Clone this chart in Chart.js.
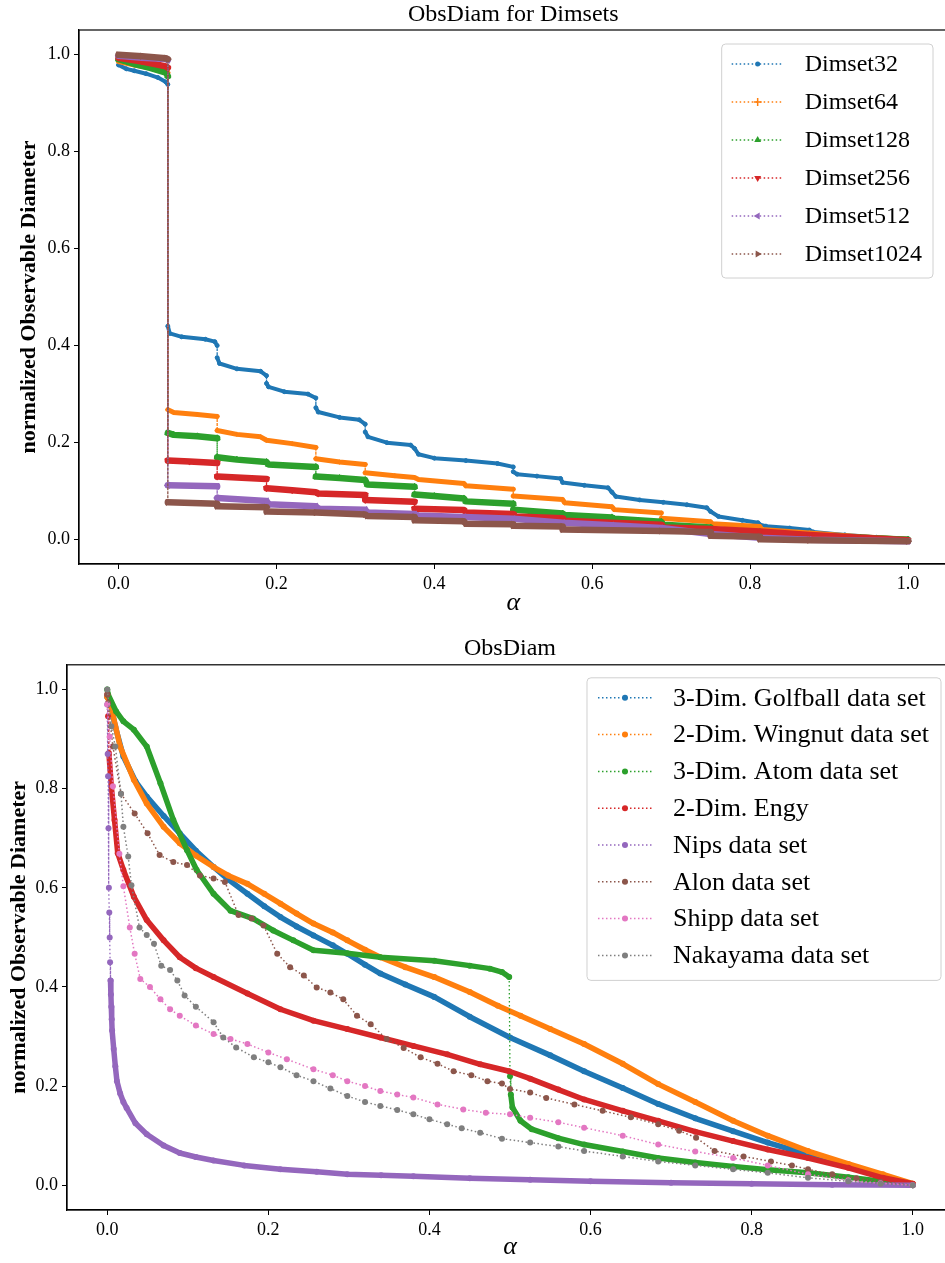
<!DOCTYPE html>
<html lang="en">
<head>
<meta charset="UTF-8">
<title>ObsDiam</title>
<script src="https://cdn.jsdelivr.net/npm/chart.js"></script>
<style>
  html, body { margin: 0; padding: 0; background: #fff; overflow: hidden; }
  .box { position: relative; width: 960px; }
  #top { height: 620px; }
  #bottom { height: 643px; }
</style>
</head>
<body>
<div class="box" id="top"><canvas id="dimsetChart"></canvas></div>
<div class="box" id="bottom"><canvas id="obsChart"></canvas></div>
<script>
// ---- tick labels ----
const xTicks = [0, 0.2, 0.4, 0.6, 0.8, 1.0];
const yTicks = [0, 0.2, 0.4, 0.6, 0.8, 1.0];

// ---- top chart: ObsDiam for Dimsets ([alpha, value]) ----
const dimsetLabels = ['Dimset32', 'Dimset64', 'Dimset128', 'Dimset256', 'Dimset512', 'Dimset1024'];

const dimset32 = [[0,0.978],[0.01,0.970],[0.02,0.966],[0.035,0.960],[0.05,0.952],[0.06,0.943],[0.0625,0.938],
  [0.0625,0.44],[0.065,0.425],[0.08,0.418],[0.11,0.413],[0.122,0.408],[0.125,0.40],
  [0.125,0.375],[0.128,0.363],[0.15,0.352],[0.18,0.347],[0.1875,0.338],
  [0.1875,0.322],[0.19,0.315],[0.21,0.305],[0.24,0.30],[0.25,0.292],
  [0.25,0.272],[0.253,0.263],[0.28,0.252],[0.305,0.247],[0.3125,0.238],
  [0.3125,0.222],[0.316,0.212],[0.34,0.200],[0.37,0.195],[0.375,0.188],
  [0.38,0.176],[0.40,0.168],[0.44,0.163],[0.48,0.157],[0.5,0.150],
  [0.5,0.14],[0.505,0.135],[0.53,0.131],[0.56,0.126],[0.5625,0.118],[0.59,0.112],[0.62,0.107],
  [0.625,0.098],[0.63,0.089],[0.66,0.082],[0.69,0.077],[0.72,0.072],[0.745,0.066],
  [0.75,0.058],[0.76,0.048],[0.79,0.040],[0.81,0.035],[0.8125,0.031],[0.82,0.028],[0.85,0.024],
  [0.875,0.020],[0.88,0.016],[0.92,0.010],[0.96,0.005],[1.0,0.002]];

const dimset64 = [[0,0.985],[0.02,0.978],[0.04,0.972],[0.06,0.965],[0.0625,0.962],
  [0.0625,0.268],[0.07,0.262],[0.1,0.258],[0.125,0.254],
  [0.125,0.225],[0.15,0.217],[0.18,0.212],[0.1875,0.205],[0.22,0.198],[0.25,0.190],
  [0.25,0.167],[0.28,0.160],[0.3125,0.155],
  [0.3125,0.138],[0.35,0.132],[0.375,0.128],[0.38,0.124],[0.4375,0.116],[0.44,0.111],[0.5,0.104],
  [0.5,0.090],[0.5625,0.083],[0.565,0.076],[0.625,0.068],[0.628,0.062],[0.6875,0.055],
  [0.6875,0.044],[0.75,0.037],[0.752,0.033],[0.8125,0.027],[0.815,0.021],[0.875,0.014],[0.94,0.006],[1.0,0.001]];

const dimset128 = [[0,0.99],[0.02,0.98],[0.04,0.972],[0.06,0.962],[0.0625,0.955],
  [0.0625,0.22],[0.07,0.216],[0.1,0.213],[0.125,0.209],
  [0.125,0.170],[0.15,0.165],[0.1875,0.160],[0.19,0.155],[0.25,0.150],
  [0.25,0.130],[0.28,0.127],[0.3125,0.123],[0.315,0.114],[0.375,0.109],
  [0.375,0.093],[0.40,0.090],[0.4375,0.085],[0.44,0.079],[0.5,0.074],
  [0.5,0.062],[0.5625,0.054],[0.565,0.051],[0.625,0.046],[0.628,0.043],[0.6875,0.037],[0.69,0.031],
  [0.75,0.025],[0.753,0.020],[0.8125,0.016],[0.815,0.012],[0.875,0.008],[0.94,0.004],[1.0,0.0]];

const dimset256 = [[0,0.993],[0.03,0.985],[0.06,0.975],[0.0625,0.972],
  [0.0625,0.163],[0.09,0.161],[0.125,0.158],
  [0.125,0.130],[0.1875,0.125],
  [0.1875,0.106],[0.22,0.102],[0.25,0.098],[0.253,0.095],[0.3125,0.092],
  [0.3125,0.082],[0.375,0.078],
  [0.375,0.064],[0.4375,0.061],[0.44,0.056],[0.5,0.053],[0.503,0.048],[0.5625,0.044],[0.565,0.039],
  [0.625,0.035],[0.6875,0.031],[0.69,0.025],[0.75,0.022],[0.8125,0.017],[0.875,0.010],[0.94,0.004],[1.0,-0.001]];

const dimset512 = [[0,0.997],[0.03,0.993],[0.06,0.99],[0.0625,0.988],
  [0.0625,0.112],[0.125,0.110],
  [0.125,0.086],[0.1875,0.080],[0.19,0.073],[0.25,0.069],[0.253,0.064],[0.3125,0.062],[0.315,0.056],
  [0.375,0.053],[0.378,0.050],[0.4375,0.047],[0.5,0.043],[0.5625,0.035],[0.625,0.030],[0.6875,0.024],
  [0.75,0.012],[0.8125,0.004],[0.875,0.0],[1.0,-0.003]];

const dimset1024 = [[0,0.999],[0.03,0.996],[0.06,0.992],[0.0625,0.99],
  [0.0625,0.077],[0.125,0.074],
  [0.125,0.069],[0.1875,0.067],
  [0.1875,0.058],[0.25,0.056],[0.3125,0.052],[0.315,0.049],[0.375,0.047],
  [0.375,0.040],[0.4375,0.038],[0.44,0.033],[0.5,0.032],
  [0.5,0.029],[0.5625,0.027],
  [0.5625,0.021],[0.6875,0.018],[0.75,0.016],
  [0.75,0.008],[0.8125,0.006],
  [0.8125,0.001],[0.875,-0.001],[1.0,-0.003]];

// ---- bottom chart: ObsDiam ([alpha, value]) ----
const obsLabels = ['3-Dim. Golfball data set', '2-Dim. Wingnut data set', '3-Dim. Atom data set', '2-Dim. Engy',
  'Nips data set', 'Alon data set', 'Shipp data set', 'Nakayama data set'];

const golfball = [[0,0.985],[0.004,0.973],[0.01,0.925],[0.02,0.865],[0.035,0.815],[0.049,0.784],[0.07,0.745],
  [0.09,0.71],[0.11,0.675],[0.132,0.642],[0.15,0.617],[0.174,0.588],[0.195,0.563],[0.215,0.541],[0.235,0.522],
  [0.256,0.504],[0.28,0.484],[0.298,0.467],[0.32,0.445],[0.339,0.427],[0.37,0.405],[0.406,0.38],[0.45,0.34],
  [0.5,0.298],[0.55,0.262],[0.592,0.23],[0.64,0.196],[0.684,0.164],[0.73,0.135],[0.777,0.109],[0.82,0.086],
  [0.87,0.062],[0.92,0.04],[0.963,0.018],[1.0,0.002]];

const wingnut = [[0,0.985],[0.004,0.97],[0.016,0.885],[0.033,0.818],[0.049,0.77],[0.07,0.723],[0.09,0.69],
  [0.11,0.665],[0.132,0.642],[0.15,0.625],[0.174,0.608],[0.195,0.588],[0.215,0.568],[0.235,0.548],[0.256,0.528],
  [0.28,0.51],[0.298,0.494],[0.32,0.475],[0.339,0.46],[0.37,0.44],[0.406,0.42],[0.45,0.39],[0.485,0.362],
  [0.513,0.342],[0.55,0.315],[0.592,0.285],[0.64,0.245],[0.684,0.204],[0.73,0.168],[0.777,0.13],[0.82,0.1],
  [0.87,0.069],[0.92,0.043],[0.963,0.022],[1.0,0.003]];

const atom = [[0,1.0],[0.001,0.99],[0.011,0.956],[0.02,0.936],[0.033,0.919],[0.049,0.885],[0.066,0.811],
  [0.082,0.737],[0.099,0.676],[0.111,0.636],[0.132,0.588],[0.153,0.554],[0.181,0.538],[0.206,0.514],
  [0.231,0.494],[0.256,0.474],[0.298,0.468],[0.339,0.46],[0.406,0.453],[0.45,0.443],[0.475,0.437],
  [0.49,0.43],[0.499,0.42],[0.5,0.22],[0.501,0.183],[0.503,0.157],[0.513,0.13],[0.527,0.113],[0.56,0.095],
  [0.592,0.082],[0.64,0.068],[0.684,0.055],[0.73,0.046],[0.777,0.038],[0.82,0.031],[0.87,0.025],
  [0.92,0.016],[0.96,0.008],[1.0,0.0]];

const engy = [[0,0.99],[0.001,0.946],[0.002,0.872],[0.005,0.805],[0.009,0.737],[0.013,0.67],[0.02,0.636],
  [0.033,0.582],[0.049,0.535],[0.07,0.494],[0.09,0.46],[0.11,0.438],[0.132,0.42],[0.174,0.387],[0.215,0.355],
  [0.256,0.332],[0.298,0.315],[0.339,0.298],[0.38,0.281],[0.422,0.264],[0.463,0.244],[0.499,0.23],
  [0.525,0.215],[0.56,0.193],[0.592,0.173],[0.64,0.15],[0.684,0.13],[0.73,0.108],[0.777,0.089],
  [0.82,0.072],[0.87,0.055],[0.92,0.035],[0.963,0.015],[1.0,0.003]];

const nips = [[0,0.97],[0.0005,0.87],[0.001,0.825],[0.0015,0.72],[0.002,0.6],[0.0025,0.55],[0.003,0.5],
  [0.0035,0.45],[0.004,0.413],[0.0045,0.385],[0.005,0.36],[0.0055,0.335],[0.006,0.312],[0.008,0.275],
  [0.01,0.24],[0.012,0.21],[0.016,0.185],[0.02,0.168],[0.024,0.156],[0.035,0.125],[0.049,0.103],
  [0.07,0.08],[0.09,0.065],[0.11,0.057],[0.132,0.05],[0.17,0.04],[0.215,0.032],[0.26,0.027],[0.298,0.022],
  [0.34,0.02],[0.38,0.018],[0.45,0.014],[0.525,0.011],[0.6,0.008],[0.7,0.005],[0.8,0.003],[0.9,0.001],[1.0,0.0]];

const alon = [[0,0.99],[0.001,0.973],[0.007,0.885],[0.017,0.79],[0.034,0.75],[0.05,0.71],[0.065,0.666],
  [0.082,0.652],[0.099,0.646],[0.115,0.625],[0.132,0.619],[0.146,0.612],[0.163,0.545],[0.179,0.538],
  [0.194,0.524],[0.211,0.467],[0.227,0.44],[0.244,0.423],[0.26,0.399],[0.277,0.389],[0.293,0.375],
  [0.31,0.342],[0.327,0.325],[0.347,0.295],[0.368,0.277],[0.389,0.258],[0.41,0.245],[0.43,0.23],
  [0.452,0.222],[0.472,0.21],[0.49,0.205],[0.5,0.194],[0.525,0.187],[0.545,0.176],[0.58,0.163],
  [0.615,0.15],[0.65,0.137],[0.684,0.123],[0.71,0.11],[0.731,0.096],[0.754,0.069],[0.79,0.058],
  [0.824,0.048],[0.85,0.04],[0.87,0.032],[0.9,0.022],[0.93,0.014],[0.96,0.007],[1.0,0.0]];

const shipp = [[0,0.97],[0.003,0.905],[0.007,0.805],[0.015,0.669],[0.02,0.603],[0.028,0.52],[0.034,0.467],
  [0.041,0.416],[0.053,0.4],[0.066,0.375],[0.078,0.355],[0.09,0.342],[0.11,0.322],[0.132,0.305],
  [0.153,0.295],[0.174,0.285],[0.2,0.268],[0.223,0.254],[0.256,0.234],[0.28,0.222],[0.298,0.21],
  [0.32,0.2],[0.339,0.19],[0.36,0.183],[0.38,0.177],[0.41,0.163],[0.442,0.153],[0.47,0.146],[0.5,0.143],
  [0.525,0.136],[0.56,0.127],[0.592,0.116],[0.64,0.1],[0.684,0.082],[0.73,0.068],[0.777,0.055],
  [0.82,0.04],[0.87,0.022],[0.92,0.01],[0.96,0.004],[1.0,0.0]];

const nakayama = [[0,1.0],[0.005,0.926],[0.01,0.885],[0.017,0.79],[0.02,0.723],[0.026,0.663],[0.03,0.605],
  [0.04,0.52],[0.049,0.505],[0.058,0.487],[0.067,0.443],[0.078,0.434],[0.087,0.413],[0.096,0.383],
  [0.11,0.36],[0.132,0.329],[0.144,0.298],[0.16,0.278],[0.182,0.258],[0.2,0.248],[0.215,0.238],
  [0.235,0.222],[0.256,0.21],[0.277,0.195],[0.298,0.18],[0.32,0.168],[0.339,0.16],[0.36,0.152],
  [0.38,0.143],[0.4,0.133],[0.422,0.123],[0.44,0.115],[0.463,0.106],[0.49,0.094],[0.525,0.086],
  [0.56,0.078],[0.592,0.069],[0.64,0.058],[0.684,0.048],[0.73,0.04],[0.777,0.032],[0.82,0.025],
  [0.87,0.015],[0.92,0.008],[0.96,0.003],[1.0,0.0]];

// ---- styles ----
const tab10 = ['#1f77b4', '#ff7f0e', '#2ca02c', '#d62728', '#9467bd', '#8c564b', '#e377c2', '#7f7f7f'];
const FONT = "'Liberation Serif', 'Times New Roman', serif";
Chart.defaults.font.family = FONT;
Chart.defaults.color = '#000';

const dimsetSeries = [dimset32, dimset64, dimset128, dimset256, dimset512, dimset1024];
const dimsetMarker = ['circle', 'cross', 'triangle', 'triangle', 'triangle', 'triangle'];
const dimsetRotation = [0, 0, 0, 180, 270, 90];
const dimsetWidth = [4, 5, 6.5, 6.5, 6.5, 6.5];
const dimsetRadius = [2, 2.5, 3.5, 3.5, 3.5, 3.5];
const dimsetLegendRadius = [2.5, 4, 4, 4, 4, 4];

const obsSeries = [golfball, wingnut, atom, engy, nips, alon, shipp, nakayama];
const obsDense = [true, true, true, true, true, false, false, false];

// thin dotted line where the curve jumps (almost) vertically
function isJump(c) {
  const dx = Math.abs(c.p1.x - c.p0.x), dy = Math.abs(c.p1.y - c.p0.y);
  return (dx < 0.3 && dy > 2) || (dx < 1.2 && dy > 14.5);
}
const jumpSegment = {
  borderWidth: c => isJump(c) ? 1.3 : undefined,
  borderDash: c => isJump(c) ? [1.5, 2.5] : undefined,
  borderCapStyle: c => isJump(c) ? 'butt' : undefined
};

function drawMarker(ctx, style, rotation, r, x, y, color) {
  ctx.save();
  ctx.translate(x, y);
  ctx.rotate(rotation * Math.PI / 180);
  ctx.fillStyle = color;
  ctx.strokeStyle = color;
  ctx.setLineDash([]);
  ctx.beginPath();
  if (style === 'cross') {
    ctx.lineWidth = 1.5;
    ctx.moveTo(-r, 0); ctx.lineTo(r, 0);
    ctx.moveTo(0, -r); ctx.lineTo(0, r);
    ctx.stroke();
  } else if (style === 'triangle') {
    ctx.moveTo(0, -r);
    ctx.lineTo(r * 0.866, r * 0.5);
    ctx.lineTo(-r * 0.866, r * 0.5);
    ctx.closePath();
    ctx.fill();
  } else {
    ctx.arc(0, 0, r, 0, Math.PI * 2);
    ctx.fill();
  }
  ctx.restore();
}

function framePlugin() {
  return {
    id: 'frame',
    afterDraw(chart) {
      const a = chart.chartArea, ctx = chart.ctx;
      ctx.save();
      ctx.strokeStyle = '#000';
      ctx.lineWidth = 1.2;
      ctx.strokeRect(a.left, a.top, a.right - a.left, a.bottom - a.top);
      ctx.restore();
    }
  };
}

function legendPlugin(cfg) {
  return {
    id: 'boxLegend',
    afterDraw(chart) {
      const ctx = chart.ctx, a = chart.chartArea;
      const sets = chart.data.datasets;
      ctx.save();
      ctx.font = cfg.fontSize + 'px ' + FONT;
      let w = 0;
      sets.forEach(d => { w = Math.max(w, ctx.measureText(d.label).width); });
      const bw = cfg.textX + w + cfg.padRight;
      const bh = cfg.padTop + cfg.rowH * (sets.length - 1) + cfg.padBottom;
      const bx = a.right - cfg.right - bw, by = a.top + cfg.top;
      ctx.beginPath();
      ctx.roundRect(bx, by, bw, bh, 4);
      ctx.fillStyle = 'rgba(255,255,255,0.8)';
      ctx.fill();
      ctx.strokeStyle = '#d0d0d0';
      ctx.lineWidth = 1;
      ctx.stroke();
      sets.forEach((d, i) => {
        const y = by + cfg.padTop + i * cfg.rowH;
        ctx.strokeStyle = d.borderColor;
        ctx.lineWidth = 1.5;
        ctx.setLineDash([1.5, 2.5]);
        ctx.beginPath();
        ctx.moveTo(bx + cfg.h0, y);
        ctx.lineTo(bx + cfg.h1, y);
        ctx.stroke();
        drawMarker(ctx, d.pointStyle, d.pointRotation || 0, cfg.markerR[i], bx + (cfg.h0 + cfg.h1) / 2, y, d.borderColor);
        ctx.fillStyle = '#000';
        ctx.textBaseline = 'middle';
        ctx.textAlign = 'left';
        ctx.fillText(d.label, bx + cfg.textX, y + 1);
      });
      ctx.restore();
    }
  };
}

function axes(yWidth, xHeight, yTitlePad, xTitlePad) {
  const tickFont = { size: 18, family: FONT };
  const grid = { display: true, drawOnChartArea: false, drawTicks: true, tickLength: 5, color: '#000', lineWidth: 1 };
  return {
    x: {
      type: 'linear', min: -0.05, max: 1.05,
      afterBuildTicks: s => { s.ticks = xTicks.map(v => ({ value: v })); },
      afterFit: s => { s.height = xHeight; },
      ticks: { font: tickFont, padding: 4, maxRotation: 0, callback: v => v.toFixed(1) },
      grid: grid,
      border: { display: true, color: '#000', width: 1.2 },
      title: { display: true, text: 'α', font: { size: 26, style: 'italic', family: FONT }, padding: { top: 0, bottom: xTitlePad } }
    },
    y: {
      type: 'linear', min: -0.05, max: 1.05,
      afterBuildTicks: s => { s.ticks = yTicks.map(v => ({ value: v })); },
      afterFit: s => { s.width = yWidth; },
      ticks: { font: tickFont, padding: 4, callback: v => v.toFixed(1) },
      grid: grid,
      border: { display: true, color: '#000', width: 1.2 },
      title: { display: true, text: 'normalized Observable Diameter', font: { size: 22, weight: 'bold', family: FONT }, padding: { top: yTitlePad, bottom: 0 } }
    }
  };
}

// ---- top chart ----
new Chart(document.getElementById('dimsetChart'), {
  type: 'line',
  data: {
    datasets: dimsetSeries.map((s, i) => ({
      label: dimsetLabels[i],
      data: s.map(p => ({ x: p[0], y: p[1] })),
      borderColor: tab10[i],
      backgroundColor: tab10[i],
      borderWidth: dimsetWidth[i],
      borderCapStyle: 'round',
      borderJoinStyle: 'round',
      pointStyle: dimsetMarker[i],
      pointRotation: dimsetRotation[i],
      pointRadius: dimsetRadius[i],
      pointBackgroundColor: tab10[i],
      pointBorderColor: tab10[i],
      pointBorderWidth: 1,
      tension: 0,
      order: -i,
      segment: jumpSegment
    }))
  },
  options: {
    responsive: true,
    maintainAspectRatio: false,
    animation: false,
    events: [],
    layout: { padding: { left: 0, right: 12.5, top: 0, bottom: 0 } },
    plugins: {
      legend: { display: false },
      tooltip: { enabled: false },
      title: { display: true, text: 'ObsDiam for Dimsets', fullSize: false, font: { size: 24, weight: 'normal', family: FONT }, padding: { top: 0, bottom: 1.2 } }
    },
    scales: axes(79, 56, 16, 1.6)
  },
  plugins: [framePlugin(), legendPlugin({ fontSize: 24, rowH: 38, padTop: 20, padBottom: 24, textX: 83, padRight: 11, h0: 10, h1: 62, markerR: dimsetLegendRadius, right: 14.5, top: 14 })]
});

// ---- bottom chart ----
new Chart(document.getElementById('obsChart'), {
  type: 'line',
  data: {
    datasets: obsSeries.map((s, i) => ({
      label: obsLabels[i],
      data: s.map(p => ({ x: p[0], y: p[1] })),
      borderColor: tab10[i],
      backgroundColor: tab10[i],
      borderWidth: obsDense[i] ? 5.5 : 1.5,
      borderDash: obsDense[i] ? [] : [1.5, 2.5],
      borderCapStyle: obsDense[i] ? 'round' : 'butt',
      borderJoinStyle: 'round',
      pointStyle: 'circle',
      pointRadius: 3,
      pointBackgroundColor: tab10[i],
      pointBorderColor: tab10[i],
      pointBorderWidth: 0,
      tension: 0,
      order: -i,
      segment: obsDense[i] ? jumpSegment : undefined
    }))
  },
  options: {
    responsive: true,
    maintainAspectRatio: false,
    animation: false,
    events: [],
    layout: { padding: { left: 0, right: 7, top: 0, bottom: 0 } },
    plugins: {
      legend: { display: false },
      tooltip: { enabled: false },
      title: { display: true, text: 'ObsDiam', fullSize: false, font: { size: 24, weight: 'normal', family: FONT }, padding: { top: 14, bottom: 2 } }
    },
    scales: axes(67, 53, 6, 0)
  },
  plugins: [framePlugin(), legendPlugin({ fontSize: 26, rowH: 36.8, padTop: 20, padBottom: 25, textX: 86, padRight: 12, h0: 11, h1: 65, markerR: [3, 3, 3, 3, 3, 3, 3, 3], right: 12, top: 13 })]
});
</script>
</body>
</html>
